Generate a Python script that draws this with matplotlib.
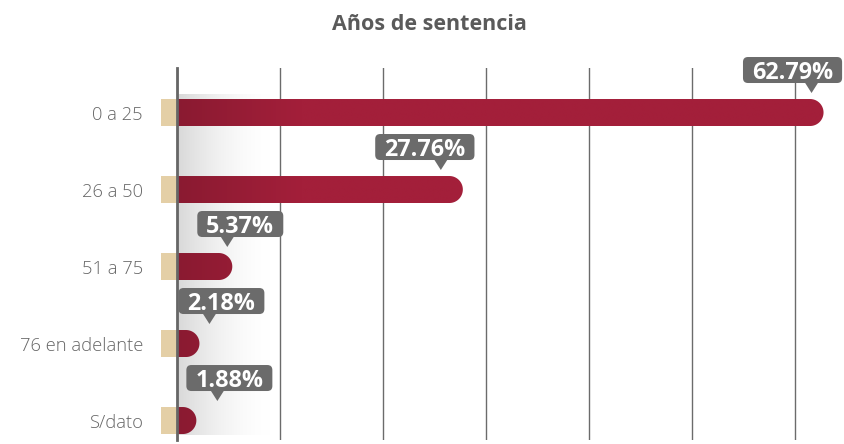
import numpy as np
import matplotlib
matplotlib.use("Agg")
import matplotlib.pyplot as plt
from matplotlib.patches import Rectangle, Polygon, FancyBboxPatch, PathPatch
from matplotlib.path import Path
from matplotlib.transforms import IdentityTransform

# ---------------- data ----------------
categories = ["0 a 25", "26 a 50", "51 a 75", "76 en adelante", "S/dato"]
values = [62.79, 27.76, 5.37, 2.18, 1.88]
value_labels = ["62.79%", "27.76%", "5.37%", "2.18%", "1.88%"]
title = "Años de sentencia"

# ---------------- style ----------------
W, H, DPI = 844, 444, 100
BAR_COLOR = "#a31f3a"
BAR_DARK = "#8a1a31"
TAN = "#e4cfa6"
GRID = "#6b6b6b"
LABEL_BG = "#6b6b6b"
TEXT_GREY = "#666666"
FONT = ["Open Sans", "DejaVu Sans"]

# pixel offsets for callouts (pointer relative to bar end, box relative to pointer)
ptr_dx = [-12, -22, -5, 10, 21]
box_dx = [-19, -16, 13, 12, 12]

fig = plt.figure(figsize=(W / DPI, H / DPI), dpi=DPI)
left_px, right_px, top_px, bottom_px = 177, 836, 68, 440
ax = fig.add_axes([left_px / W, (H - bottom_px) / H,
                   (right_px - left_px) / W, (bottom_px - top_px) / H])
xmax = 64.0
ax.set_xlim(0, xmax)
ax.set_ylim(4.253, -0.578)
ax.set_xticks(np.arange(0, 61, 10))
ax.set_xticklabels([])
ax.tick_params(axis="x", length=0)
ax.grid(axis="x", color=GRID, lw=1.0)
ax.set_axisbelow(True)
for s in ["top", "right", "bottom"]:
    ax.spines[s].set_visible(False)
ax.spines["left"].set_color("#666666")
ax.spines["left"].set_linewidth(2.0)
ax.spines["left"].set_zorder(6)

ypos = np.arange(len(categories))
ax.set_yticks(ypos)
ax.set_yticklabels(categories, fontsize=13.2, color=TEXT_GREY, family=FONT, fontweight="light")
ax.tick_params(axis="y", length=0, pad=24.5)

ppx = (right_px - left_px) / xmax           # pixels per x unit
ppy = (bottom_px - top_px) / (4.253 + 0.578)  # pixels per y unit
bh = 27 / ppy                                 # bar height in y units

# grey shading near the axis
n = 200
xs = np.linspace(0, 1, n)
alpha = (1 - xs) ** 1.8 * 0.85
img = np.zeros((2, n, 4))
img[..., :3] = 0.82
img[..., 3] = alpha
ax.imshow(img, extent=(0, 9.5, 4.19, -0.23), aspect="auto", zorder=1, interpolation="bilinear")

# bar gradient image
c0 = np.array(matplotlib.colors.to_rgb(BAR_DARK))
c1 = np.array(matplotlib.colors.to_rgb(BAR_COLOR))
gx = np.linspace(0, xmax, 600)
t = np.clip(gx / 12.0, 0, 1)
grad = (c0[None, :] * (1 - t[:, None]) + c1[None, :] * t[:, None])[None, :, :]

rx = (bh * ppy / 2) / ppx  # cap radius in x units
for i, v in enumerate(values):
    y0, y1 = i - bh / 2, i + bh / 2
    th = np.linspace(-np.pi / 2, np.pi / 2, 40)
    cx = max(v - rx, 0)
    arc = [(cx + rx * np.cos(a), i + (bh / 2) * np.sin(a)) for a in th]
    verts = [(0, y0)] + arc + [(0, y1), (0, y0)]
    codes = [Path.MOVETO] + [Path.LINETO] * (len(verts) - 2) + [Path.CLOSEPOLY]
    patch = PathPatch(Path(verts, codes), fc="none", ec="none", transform=ax.transData)
    ax.add_patch(patch)
    im = ax.imshow(grad, extent=(0, xmax, y1, y0), aspect="auto", zorder=3, interpolation="bilinear")
    im.set_clip_path(patch)
    # tan square left of axis
    ax.add_patch(Rectangle((-16 / ppx, y0), 16 / ppx, bh, fc=TAN, ec="none",
                           clip_on=False, zorder=4))

ax.set_xlim(0, xmax)
ax.set_ylim(4.253, -0.578)

# title
fig.text(429 / W, 1 - 24 / H, title, ha="center", va="center", fontsize=15.5,
         fontweight="bold", color="#5a5a5a", family=FONT)

# callouts in display (pixel) coordinates
fig.canvas.draw()
renderer = fig.canvas.get_renderer()
for i, (v, lab) in enumerate(zip(values, value_labels)):
    bx, btop = ax.transData.transform((v, i - bh / 2))
    px_ = bx + ptr_dx[i]
    cxp = px_ + box_dx[i]
    box_bot = btop + 16
    box_top = btop + 42
    txt = fig.text(cxp, (box_bot + box_top) / 2, lab, transform=IdentityTransform(),
                   ha="center", va="center_baseline", fontsize=16.8, fontweight="bold",
                   color="white", family=FONT, zorder=11)
    ext = txt.get_window_extent(renderer)
    bw = ext.width + 18
    fig.patches.append(FancyBboxPatch((cxp - bw / 2, box_bot), bw, box_top - box_bot,
                                      boxstyle="round,pad=0,rounding_size=5",
                                      fc=LABEL_BG, ec="none", transform=IdentityTransform(),
                                      figure=fig, zorder=10))
    fig.patches.append(Polygon([(px_ - 7, box_bot + 1), (px_ + 7, box_bot + 1), (px_, btop + 6)],
                               closed=True, fc=LABEL_BG, ec="none",
                               transform=IdentityTransform(), figure=fig, zorder=10))

fig.savefig("out.png", dpi=DPI)
